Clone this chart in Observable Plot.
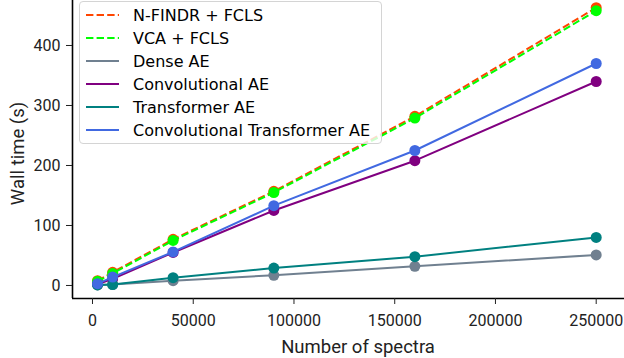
<!DOCTYPE html>
<html><head><meta charset="utf-8">
<script src="https://cdn.jsdelivr.net/npm/d3@7"></script>
<script src="https://cdn.jsdelivr.net/npm/@observablehq/plot@0.6"></script>
<style>
body{margin:0;background:#fff;}
#wrap{position:relative;width:624px;height:358px;overflow:hidden;}
#legend{position:absolute;left:79px;top:1px;width:303px;height:143px;border:1px solid #d4d4d4;border-radius:4px;background:rgba(255,255,255,0.8);box-sizing:border-box;}
</style></head><body>
<div id="wrap"><div id="chart"></div><div id="legend"></div></div>
<script>
const spectra = [2500, 10000, 40000, 90000, 160000, 250000];
const seriesNames = ["N-FINDR + FCLS", "VCA + FCLS", "Dense AE", "Convolutional AE", "Transformer AE", "Convolutional Transformer AE"];
const seriesColors = ["#ff4500", "#00ff00", "#708090", "#800080", "#008080", "#4169e1"];
const seriesDashed = [true, true, false, false, false, false];
const nfindrFcls = [8, 22, 77, 157, 282, 463];
const vcaFcls = [7, 20, 75, 155, 279, 458];
const denseAE = [1, 1.5, 8, 17, 32, 51];
const convAE = [2, 11, 55, 125, 208, 340];
const transformerAE = [1, 1.5, 13, 29, 48, 80];
const convTransformerAE = [3, 14, 56, 133, 225, 370];
const seriesValues = [nfindrFcls, vcaFcls, denseAE, convAE, transformerAE, convTransformerAE];
const xTicks = [0, 50000, 100000, 150000, 200000, 250000];
const yTicks = [0, 100, 200, 300, 400];
const xDomain = [-9926, 264046];
const yDomain = [-21.7, 475];

const marks = [];
seriesNames.forEach((name, i) => {
  const data = spectra.map((x, j) => ({x, y: seriesValues[i][j], series: name}));
  marks.push(Plot.line(data, {x: "x", y: "y", stroke: seriesColors[i], strokeWidth: 2,
    strokeDasharray: seriesDashed[i] ? "7.4,3.2" : null, strokeLinecap: "butt"}));
  marks.push(Plot.dot(data, {x: "x", y: "y", fill: seriesColors[i], r: 5.5, stroke: "none"}));
});
marks.push(Plot.ruleX([xDomain[0]], {stroke: "#000", strokeWidth: 1.6}));
marks.push(Plot.ruleY([yDomain[0]], {stroke: "#000", strokeWidth: 1.6}));
marks.push(Plot.axisX({ticks: xTicks, tickSize: 6, tickPadding: 10, tickFormat: d => String(d), label: null, fontSize: 16}));
marks.push(Plot.axisY({ticks: yTicks, tickSize: 6, tickPadding: 6, tickFormat: d => String(d), label: null, fontSize: 16}));
marks.push(Plot.text(["Number of spectra"], {frameAnchor: "bottom", textAnchor: "middle", lineAnchor: "middle", dx: 9.5, dy: 49, fontSize: 18.5, fill: "#222"}));
marks.push(Plot.text(["Wall time (s)"], {frameAnchor: "left", textAnchor: "middle", lineAnchor: "middle", rotate: -90, dx: -54, dy: 4, fontSize: 18.5, fill: "#222"}));

const chart = Plot.plot({
  width: 624, height: 358,
  marginLeft: 72, marginRight: 0, marginTop: 0, marginBottom: 60,
  x: {domain: xDomain},
  y: {domain: yDomain},
  style: {fontFamily: "Roboto", color: "#222", background: "#fff", overflow: "visible"},
  marks
});
document.getElementById("chart").appendChild(chart);

// legend
const lg = d3.select("#legend").append("svg").attr("width", 301).attr("height", 141)
  .style("font-family", "'DejaVu Sans'").style("font-size", "16px");
seriesNames.forEach((name, i) => {
  const cy = 13 + i * 23;
  lg.append("line").attr("x1", 6).attr("x2", 39).attr("y1", cy).attr("y2", cy)
    .attr("stroke", seriesColors[i]).attr("stroke-width", 2.2)
    .attr("stroke-dasharray", seriesDashed[i] ? "7.4,3.2" : null);
  lg.append("text").attr("x", 53).attr("y", cy).attr("dy", "0.36em").attr("fill", "#000").text(name);
});
</script>
</body></html>
